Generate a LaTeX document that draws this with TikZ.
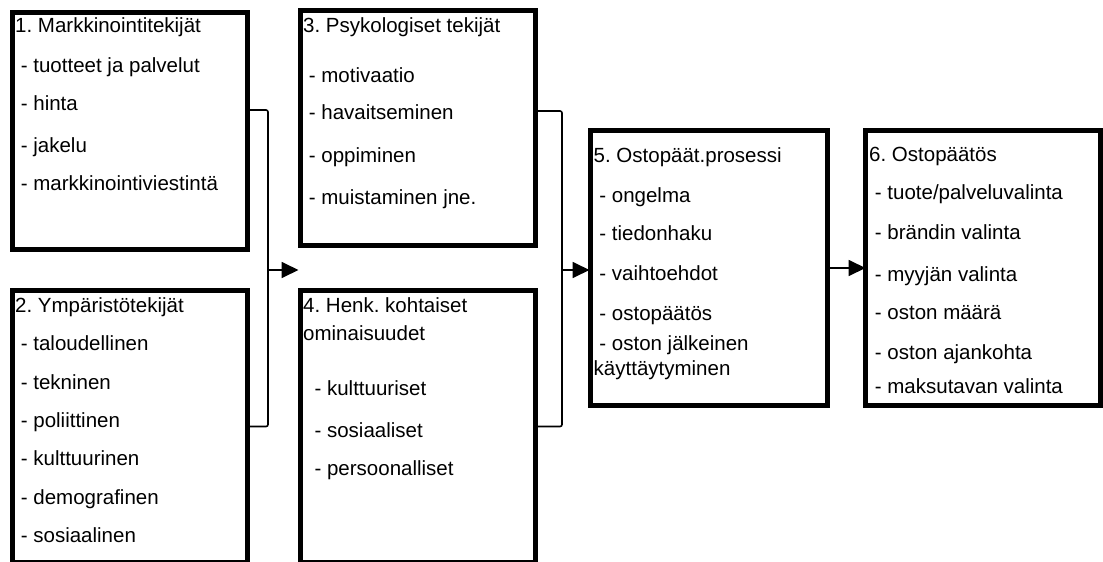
\documentclass[tikz,border=0pt]{standalone}
\usepackage{fontspec}
\setmainfont{Liberation Sans}
\frenchspacing
\usetikzlibrary{arrows.meta,positioning}
\tikzset{
  >={Triangle[length=17pt,width=16pt]},
  panel/.style={draw,line width=5pt,rectangle,inner sep=0pt,outer sep=0pt,
    anchor=north west,minimum width=#1},
  panel/.default=235pt,
  txt/.style={anchor=north west,inner sep=0pt,align=left,
    font=\fontsize{20.5}{24}\selectfont},
  link/.style={line width=1.6pt,rounded corners=2pt},
  flow/.style={->,line width=1.8pt},
}

\begin{document}
\begin{tikzpicture}[x=1pt,y=-1pt]
  \useasboundingbox (0,0) rectangle (1103,562);
  % boxes
  \node[panel,minimum height=237pt] (mark) at (12.5,12.5) {};
  \node[panel,minimum height=272pt] (env) at (12.5,290.5) {};
  \node[panel,minimum height=235pt] (psych) at (300.5,10.5) {};
  \node[panel,minimum height=272pt] (pers) at (300.5,290.5) {};
  \node[panel=237pt,minimum height=275pt] (proc) at (590.5,130.5) {};
  \node[panel,minimum height=275pt] (deci) at (865.5,130.5) {};
  % texts
  \node[txt] (markt) at ([xshift=2.5pt,yshift=-4.5pt]mark.north west)
    {1. Markkinointitekijät\\[16pt]\ - tuotteet ja palvelut\\[14pt]\ - hinta\\[18pt]\ - jakelu\\[14pt]\ - markkinointiviestintä};
  \node[txt] (envt) at ([xshift=2.5pt,yshift=-6.5pt]env.north west)
    {2. Ympäristötekijät\\[14pt]\ - taloudellinen\\[15pt]\ - tekninen\\[14pt]\ - poliittinen\\[14pt]\ - kulttuurinen\\[15pt]\ - demografinen\\[14pt]\ - sosiaalinen};
  \node[txt] (psycht) at ([xshift=2.5pt,yshift=-6.5pt]psych.north west)
    {3. Psykologiset tekijät\\[26pt]\ - motivaatio\\[13pt]\ - havaitseminen\\[19pt]\ - oppiminen\\[18pt]\ - muistaminen jne.};
  \node[txt] (perst) at ([xshift=2.5pt,yshift=-6.5pt]pers.north west)
    {4. Henk. kohtaiset\\[4pt]ominaisuudet\\[31pt]\ \ - kulttuuriset\\[18pt]\ \ - sosiaaliset\\[14pt]\ \ - persoonalliset};
  \node[txt] (proct) at ([xshift=3pt,yshift=-16.5pt]proc.north west)
    {5. Ostopäät.prosessi\\[16pt]\ - ongelma\\[14pt]\ - tiedonhaku\\[16pt]\ - vaihtoehdot\\[16pt]\ - ostopäätös\\[6pt]\ - oston jälkeinen\\[1pt]käyttäytyminen};
  \node[txt] (decit) at ([xshift=3.5pt,yshift=-16.5pt]deci.north west)
    {6. Ostopäätös\\[14pt]\ - tuote/palveluvalinta\\[16pt]\ - brändin valinta\\[18pt]\ - myyjän valinta\\[14pt]\ - oston määrä\\[16pt]\ - oston ajankohta\\[10pt]\ - maksutavan valinta};
  % connectors
  \coordinate (j1) at (268,270);
  \coordinate (j2) at (562,270);
  \draw[link] ([yshift=21pt]mark.east) -| (j1) |- (env.east);
  \draw[flow] (j1) -- ([xshift=-2pt]j1 -| psych.west);
  \draw[link] ([yshift=17pt]psych.east) -| (j2) |- (pers.east);
  \draw[flow] (j2) -- ([xshift=-1pt]j2 -| proc.west);
  \draw[flow] (proc.east) -- (deci.west);
\end{tikzpicture}
\end{document}
